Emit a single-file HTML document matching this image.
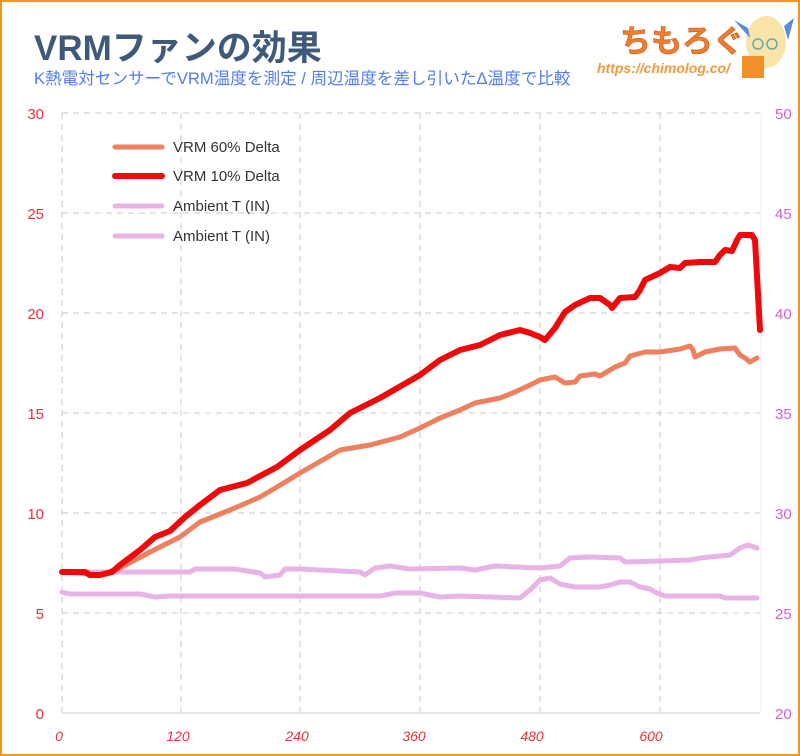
<!DOCTYPE html>
<html><head><meta charset="utf-8"><style>
html,body{margin:0;padding:0;background:#fff}
body{width:800px;height:756px;overflow:hidden;position:relative;font-family:"Liberation Sans","Noto Sans CJK JP",sans-serif}
.frame{position:absolute;left:0;top:0;width:796px;height:752px;border:2px solid #f7941d}
</style></head><body>
<div class="frame"></div>
<svg width="800" height="756" style="position:absolute;left:0;top:0" font-family="Liberation Sans, Noto Sans CJK JP, sans-serif">
<text x="34" y="60" font-size="35" font-weight="bold" fill="#3f5a78">VRMファンの効果</text>
<text x="34" y="84" font-size="16.6" fill="#4f7df0">K熱電対センサーでVRM温度を測定 / 周辺温度を差し引いたΔ温度で比較</text>
<text x="620" y="52" font-size="31" font-weight="bold" fill="#ef7d2d" stroke="#c85a1a" stroke-width="0.6">ちもろぐ</text>
<text x="597" y="73" font-size="14" font-weight="bold" font-style="italic" fill="#f29a3c">https://chimolog.co/</text>
<ellipse cx="766" cy="42" rx="20" ry="26" fill="#f8e4a8"/>
<path d="M748 28 L734 20 L750 38Z M784 26 L794 18 L788 40Z" fill="#5b8ad8"/>
<circle cx="758" cy="44" r="5" fill="none" stroke="#6aa" stroke-width="1.5"/><circle cx="772" cy="44" r="5" fill="none" stroke="#6aa" stroke-width="1.5"/>
<rect x="742" y="56" width="22" height="22" fill="#f0902a"/>
<g stroke="#c8c8c8" stroke-width="1" stroke-dasharray="6,5">
<line x1="181" y1="113" x2="181" y2="713"/><line x1="300" y1="113" x2="300" y2="713"/><line x1="420" y1="113" x2="420" y2="713"/><line x1="540" y1="113" x2="540" y2="713"/><line x1="660" y1="113" x2="660" y2="713"/>
<line x1="62" y1="113" x2="760" y2="113"/><line x1="62" y1="213" x2="760" y2="213"/><line x1="62" y1="313" x2="760" y2="313"/><line x1="62" y1="413" x2="760" y2="413"/><line x1="62" y1="513" x2="760" y2="513"/><line x1="62" y1="613" x2="760" y2="613"/>
<line x1="62" y1="113" x2="62" y2="713"/>
</g>
<line x1="62" y1="713" x2="760" y2="713" stroke="#ddd" stroke-width="1.5"/>
<line x1="761" y1="113" x2="761" y2="713" stroke="#eee" stroke-width="1"/>
<g font-size="15" fill="#e8333a" text-anchor="end">
<text x="44" y="119">30</text><text x="44" y="219">25</text><text x="44" y="319">20</text><text x="44" y="419">15</text><text x="44" y="519">10</text><text x="44" y="619">5</text><text x="44" y="719">0</text></g>
<g font-size="15" fill="#d060d0" text-anchor="start">
<text x="775" y="119">50</text><text x="775" y="219">45</text><text x="775" y="319">40</text><text x="775" y="419">35</text><text x="775" y="519">30</text><text x="775" y="619">25</text><text x="775" y="719">20</text></g>
<g font-size="14" fill="#e8333a" font-style="italic" text-anchor="middle">
<text x="59" y="741">0</text><text x="178" y="741">120</text><text x="297" y="741">240</text><text x="414" y="741">360</text><text x="532" y="741">480</text><text x="651" y="741">600</text></g>
<g fill="none" stroke-linejoin="round" stroke-linecap="round">
<polyline stroke="#e8b3e6" stroke-width="5" points="62,592 70,594 140,594 155,597 170,596 380,596 395,593 420,593 440,597 460,596 520,598 530,590 540,580 550,578 560,584 575,587 600,587 610,585 620,582 630,582 640,587 650,589 655,592 665,596 720,596 725,598 757,598"/>
<polyline stroke="#e8b3e6" stroke-width="5" points="62,572 190,572 195,569 235,569 260,573 265,577 280,575 285,569 300,569 360,572 365,575 375,568 390,566 410,569 460,568 475,570 495,566 540,568 560,566 570,558 590,557 620,558 625,562 660,561 690,560 700,558 720,556 730,555 740,548 748,545 757,548"/>
<polyline stroke="#ee7f5f" stroke-width="5" points="62,572 80,573 100,575 120,568 150,552 180,537 200,522 230,510 260,497 277,487 300,473 340,450 370,445 400,437 420,428 440,418 460,410 475,403 490,400 500,398 515,392 530,385 540,380 555,377 565,383 575,382 580,376 595,374 600,376 615,367 625,363 630,356 645,352 660,352 680,349 690,346 693,350 695,357 705,352 720,349 735,348 740,355 745,358 750,362 757,358"/>
<polyline stroke="#ee0a0a" stroke-width="6" points="62,572 85,572 90,575 100,575 112,572 120,565 140,550 155,537 170,531 185,517 200,505 220,490 247,483 277,467 300,450 330,430 350,413 380,398 420,375 440,360 460,350 480,345 500,335 520,330 530,333 540,337 545,340 555,328 565,312 575,305 590,298 600,298 610,305 612,308 620,298 635,297 640,290 645,280 660,273 670,267 680,268 685,263 700,262 715,262 720,255 725,250 732,251 737,240 740,235 752,235 755,240 760,330"/>
</g>
<g stroke-width="5" stroke-linecap="round">
<line x1="115" y1="147" x2="162" y2="147" stroke="#ee7f5f"/>
<line x1="115" y1="176" x2="162" y2="176" stroke="#ee0a0a" stroke-width="6"/>
<line x1="115" y1="206" x2="162" y2="206" stroke="#e8b3e6"/>
<line x1="115" y1="236" x2="162" y2="236" stroke="#e8b3e6"/>
</g>
<g font-size="15" fill="#333">
<text x="173" y="152">VRM 60% Delta</text><text x="173" y="181">VRM 10% Delta</text><text x="173" y="211">Ambient T (IN)</text><text x="173" y="241">Ambient T (IN)</text></g>
</svg>
</body></html>
